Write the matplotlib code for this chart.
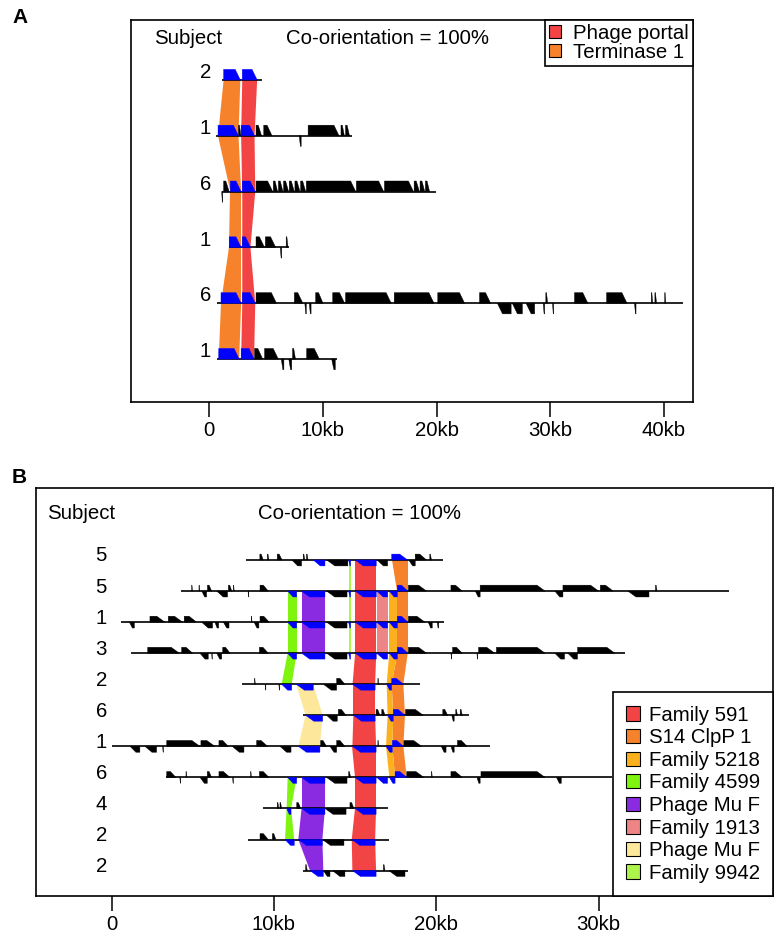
import matplotlib
matplotlib.use('Agg')
import matplotlib.pyplot as plt
from matplotlib.patches import Polygon, Patch

plt.rcParams['font.family'] = ['Liberation Sans', 'DejaVu Sans']
FS = 14.7

# ---------------- panel A data (kb) ----------------
a_labels = ['2', '1', '6', '1', '6', '1']
a_extent = [(1.11, 4.62), (0.62, 12.58), (1.11, 19.95), (1.77, 7.01), (0.69, 41.66), (0.69, 11.27)]

# other genes per row: (start, end, strand)
a_row0 = []
a_row1 = [(2.59, 2.8, 1), (4.13, 4.62, 1), (4.81, 5.54, 1), (7.93, 8.1, -1), (8.71, 11.43, 1),
          (11.6, 11.9, 1), (12.0, 12.35, 1)]
a_row2 = [(1.11, 1.2, -1), (1.28, 1.77, 1), (4.13, 5.6, 1), (5.65, 6.03, 1), (6.1, 6.5, 1),
          (6.55, 7.0, 1), (7.05, 7.5, 1), (7.55, 8.0, 1), (8.05, 8.5, 1), (8.55, 12.9, 1),
          (12.95, 15.36, 1), (15.42, 17.98, 1), (18.03, 18.5, 1), (18.55, 18.97, 1), (19.02, 19.39, 1)]
a_row3 = [(4.13, 4.88, 1), (4.95, 5.86, 1), (6.26, 6.39, -1), (6.78, 6.94, 1)]
a_row4 = [(4.13, 5.93, 1), (7.5, 8.25, 1), (8.42, 8.55, -1), (8.81, 8.97, -1), (9.37, 10.02, 1),
          (10.87, 11.92, 1), (12.0, 16.02, 1), (16.28, 19.78, 1), (20.11, 22.47, 1),
          (23.78, 24.76, 1), (25.35, 26.56, -1), (26.66, 27.55, -1), (27.87, 28.63, -1),
          (29.38, 29.51, -1), (29.61, 29.77, 1), (30.2, 30.3, -1), (32.13, 33.31, 1),
          (34.95, 36.75, 1), (37.41, 37.54, -1), (38.88, 39.01, 1), (39.2, 39.34, 1), (40.06, 40.16, 1)]
a_row5 = [(4.0, 4.72, 1), (4.88, 6.09, 1), (6.35, 6.58, -1), (7.01, 7.27, -1), (7.34, 7.6, 1),
          (8.58, 9.7, 1), (10.78, 11.1, -1)]
a_genes = [a_row0, a_row1, a_row2, a_row3, a_row4, a_row5]

# conserved families: (row, start, end), all on + strand
a_portal = [(0, 2.92, 4.23), (1, 2.82, 4.0), (2, 2.92, 4.06), (3, 2.92, 3.64), (4, 2.92, 4.06), (5, 2.82, 3.96)]
a_terminase = [(0, 1.28, 2.75), (1, 0.79, 2.59), (2, 1.87, 2.82), (3, 1.77, 2.82), (4, 1.05, 2.82), (5, 0.85, 2.65)]
a_fam_names = ['Phage portal', 'Terminase 1']
a_fam_colors = ['#F24444', '#F6832B']

# ---------------- panel B data (kb) ----------------
b_labels = ['5', '5', '1', '3', '2', '6', '1', '6', '4', '2', '2']
b_extent = [(8.3, 20.4), (4.3, 38.0), (0.55, 20.5), (1.2, 31.6), (8.0, 19.0), (11.8, 22.0),
            (0.0, 23.3), (3.35, 30.85), (9.35, 17.0), (8.4, 17.1), (11.8, 18.24)]

b_row0 = [(9.13, 9.34, 1), (9.59, 9.69, 1), (10.2, 10.5, 1), (11.1, 11.7, -1), (11.8, 11.9, 1),
          (12.0, 12.1, 1), (13.25, 14.55, -1), (16.35, 17.0, -1), (18.3, 18.7, -1), (18.7, 19.4, 1),
          (19.6, 19.7, 1)]
b_row1 = [(4.93, 4.98, 1), (5.38, 5.43, 1), (5.55, 5.85, -1), (5.9, 6.16, 1), (6.47, 7.14, -1),
          (7.19, 7.4, 1), (7.5, 7.55, 1), (8.4, 8.45, -1), (9.14, 9.65, 1), (13.24, 14.5, -1),
          (18.28, 19.4, 1), (20.9, 21.6, 1), (22.4, 22.7, -1), (22.7, 26.7, 1), (27.3, 27.8, -1),
          (27.8, 30.0, 1), (30.1, 30.9, 1), (31.8, 33.1, -1), (33.5, 33.6, 1)]
b_row2 = [(1.09, 1.4, -1), (2.36, 3.28, 1), (3.49, 4.37, 1), (4.47, 5.23, 1), (5.54, 6.22, -1),
          (6.36, 6.59, -1), (6.88, 7.23, -1), (8.6, 8.65, 1), (8.77, 9.07, -1), (9.14, 9.71, 1),
          (13.24, 14.5, -1), (18.28, 19.3, 1), (19.5, 19.75, -1), (20.05, 20.15, -1)]
b_row3 = [(2.22, 4.17, 1), (4.31, 4.99, 1), (5.44, 5.95, -1), (6.16, 6.2, -1), (6.47, 6.78, -1),
          (6.84, 7.29, 1), (9.1, 9.65, 1), (13.24, 14.5, -1), (18.28, 19.4, 1), (20.9, 20.95, -1),
          (21.0, 21.6, 1), (22.5, 22.55, -1), (22.6, 23.6, 1), (23.7, 26.7, 1), (27.3, 27.9, -1),
          (28.1, 28.7, -1), (28.7, 31.0, 1)]
b_row4 = [(8.8, 8.85, 1), (9.45, 9.5, -1), (10.3, 10.35, -1), (13.04, 13.86, -1), (13.86, 14.37, 1),
          (16.4, 16.45, 1)]
b_row5 = [(13.24, 13.9, -1), (13.96, 14.44, 1), (16.29, 16.53, 1), (16.64, 16.84, 1), (18.1, 19.2, 1),
          (20.4, 20.7, 1), (20.95, 21.1, -1), (21.2, 21.3, 1), (21.47, 21.6, 1)]
b_row6 = [(1.13, 1.74, -1), (2.05, 2.77, -1), (3.14, 3.19, -1), (3.39, 5.44, 1), (5.5, 6.36, 1),
          (6.61, 7.19, 1), (7.43, 8.15, -1), (8.93, 9.61, 1), (10.37, 11.05, -1), (12.87, 13.24, 1),
          (13.45, 13.86, -1), (13.86, 14.37, 1), (16.4, 16.45, 1), (18.0, 19.1, 1), (20.3, 20.6, -1),
          (20.9, 21.1, -1), (21.3, 21.9, 1)]
b_row7 = [(3.39, 3.96, 1), (4.2, 4.25, -1), (4.58, 4.63, 1), (5.44, 5.89, -1), (5.89, 6.16, 1),
          (6.61, 7.29, 1), (7.45, 7.5, -1), (8.56, 8.61, 1), (9.1, 9.69, 1), (13.24, 14.5, -1),
          (14.6, 14.72, 1), (18.18, 19.24, 1), (19.7, 19.75, 1), (20.9, 21.6, 1), (22.5, 22.7, -1),
          (22.75, 26.7, 1), (27.4, 27.7, -1)]
b_row8 = [(10.2, 10.3, 1), (10.37, 10.47, 1), (11.4, 11.65, 1), (13.14, 14.44, -1), (14.68, 14.93, 1)]
b_row9 = [(9.14, 9.65, 1), (9.9, 10.12, 1), (12.98, 14.31, -1)]
b_row10 = [(11.95, 12.05, 1), (13.04, 13.45, -1), (13.6, 14.37, -1), (16.74, 16.84, 1), (17.07, 18.07, -1)]
b_genes = [b_row0, b_row1, b_row2, b_row3, b_row4, b_row5, b_row6, b_row7, b_row8, b_row9, b_row10]

# blue genes without any partner
b_orphans = [(0, 12.42, 13.14, -1)]

# conserved families: (row, start, end)
b_f591 = [(0, 15.0, 16.3), (1, 15.0, 16.3), (2, 15.0, 16.3), (3, 15.0, 16.3), (4, 14.84, 16.23),
          (5, 14.89, 16.23), (6, 14.83, 16.29), (7, 14.99, 16.29), (8, 14.99, 16.29), (9, 14.79, 16.23),
          (10, 14.83, 16.29)]
b_s14 = [(0, 17.25, 18.24), (1, 17.6, 18.24), (2, 17.6, 18.24), (3, 17.6, 18.24), (4, 17.25, 17.97),
         (5, 17.35, 18.07), (6, 17.29, 17.97), (7, 17.46, 18.18)]
b_f5218 = [(1, 17.1, 17.6), (2, 17.1, 17.6), (3, 17.1, 17.6), (4, 16.94, 17.25), (5, 17.0, 17.35),
           (6, 16.9, 17.29), (7, 17.11, 17.46)]
b_f4599 = [(1, 10.84, 11.4), (2, 10.84, 11.4), (3, 10.84, 11.4), (4, 10.47, 11.09), (7, 10.84, 11.4),
           (8, 10.78, 11.05), (9, 10.68, 11.25)]
b_muf = [(1, 11.7, 13.14), (2, 11.7, 13.14), (3, 11.7, 13.14), (7, 11.7, 13.14), (8, 11.7, 13.14),
         (9, 11.5, 12.98), (10, 12.22, 13.04)]
b_f1913 = [(1, 16.33, 17.0), (2, 16.33, 17.0), (3, 16.33, 17.0), (7, 16.33, 17.0)]
b_muf2 = [(4, 11.37, 12.42), (5, 11.95, 13.0), (6, 11.5, 12.83)]
b_f9942 = [(0, 14.6, 14.72), (1, 14.6, 14.72), (2, 14.6, 14.72), (3, 14.6, 14.72)]
b_fam_names = ['Family 591', 'S14 ClpP 1', 'Family 5218', 'Family 4599', 'Phage Mu F',
               'Family 1913', 'Phage Mu F', 'Family 9942']
b_fam_colors = ['#F24444', '#F6832B', '#FBB11E', '#7FF50F', '#8A2BE2', '#EE8585', '#FCE79B', '#ADF54A']
b_fam_strand = [-1, 1, -1, -1, -1, -1, -1, -1]

GH = 0.19  # gene height in row units


def draw_gene(ax, x0, x1, y, strand, color, head):
    hd = min(head, 0.6 * (x1 - x0))
    if strand > 0:
        pts = [(x0, y), (x0, y + GH), (x1 - hd, y + GH), (x1, y)]
    else:
        pts = [(x1, y), (x1, y - GH), (x0 + hd, y - GH), (x0, y)]
    ax.add_patch(Polygon(pts, closed=True, fc=color, ec=color, lw=0.3, zorder=3))


def draw_panel(ax, labels, extent, genes, fams, colors, strands, orphans, head, label_x):
    # ribbons between consecutive rows
    for fam, col in zip(fams, colors):
        for a, b in zip(fam[:-1], fam[1:]):
            if b[0] - a[0] == 1:
                pts = [(a[1], -a[0]), (a[2], -a[0]), (b[2], -b[0]), (b[1], -b[0])]
                ax.add_patch(Polygon(pts, closed=True, fc=col, ec='none', zorder=1))
    for i, (s, e) in enumerate(extent):
        ax.plot([s, e], [-i, -i], color='black', lw=1.2, zorder=2, solid_capstyle='butt')
        ax.text(label_x, -i + 0.13, labels[i], ha='right', va='center', fontsize=FS)
        for g in genes[i]:
            draw_gene(ax, g[0], g[1], -i, g[2], 'black', head)
    for fam, st in zip(fams, strands):
        for r, s, e in fam:
            draw_gene(ax, s, e, -r, st, '#0000FF', head)
    for r, s, e, st in orphans:
        draw_gene(ax, s, e, -r, st, '#0000FF', head)


def style_axes(ax, ticks, ticklabels):
    ax.set_xticks(ticks)
    ax.set_xticklabels(ticklabels, fontsize=FS)
    ax.set_yticks([])
    ax.tick_params(axis='x', length=11, width=1.1, pad=3)
    for sp in ax.spines.values():
        sp.set_linewidth(1.2)


fig = plt.figure(figsize=(7.79, 9.42), dpi=100)

# ---- panel A ----
axA = fig.add_axes([0.1682, 0.5732, 0.7214, 0.4056])
draw_panel(axA, a_labels, a_extent, a_genes, [a_portal, a_terminase], a_fam_colors, [1, 1], [],
           0.45, 0.15)
axA.set_xlim(-6.86, 42.55)
axA.set_ylim(-5.77, 1.075)
style_axes(axA, [0, 10, 20, 30, 40], ['0', '10kb', '20kb', '30kb', '40kb'])
axA.text(-1.85, 0.75, 'Subject', ha='center', va='center', fontsize=FS)
axA.text(15.7, 0.75, 'Co-orientation = 100%', ha='center', va='center', fontsize=FS)
hA = [Patch(fc=c, ec='black', lw=0.8) for c in a_fam_colors]
legA = axA.legend(hA, a_fam_names, loc='upper right', bbox_to_anchor=(1, 1), borderaxespad=0,
                  fancybox=False, edgecolor='black', framealpha=1, fontsize=FS,
                  handlelength=0.6, handleheight=0.6, handletextpad=0.6,
                  labelspacing=0.0, borderpad=0.2)
legA.get_frame().set_linewidth(1.2)

# ---- panel B ----
axB = fig.add_axes([0.0462, 0.0488, 0.9461, 0.4332])
b_fams = [b_f591, b_s14, b_f5218, b_f4599, b_muf, b_f1913, b_muf2, b_f9942]
draw_panel(axB, b_labels, b_extent, b_genes, b_fams, b_fam_colors, b_fam_strand, b_orphans,
           0.5, -0.3)
axB.set_xlim(-4.66, 40.74)
axB.set_ylim(-10.82, 2.32)
style_axes(axB, [0, 10, 20, 30], ['0', '10kb', '20kb', '30kb'])
axB.text(-1.89, 1.51, 'Subject', ha='center', va='center', fontsize=FS)
axB.text(15.24, 1.51, 'Co-orientation = 100%', ha='center', va='center', fontsize=FS)
hB = [Patch(fc=c, ec='black', lw=0.8) for c in b_fam_colors]
legB = axB.legend(hB, b_fam_names, loc='lower right', bbox_to_anchor=(1, 0), borderaxespad=0,
                  fancybox=False, edgecolor='black', framealpha=1, fontsize=FS,
                  handlelength=0.7, handleheight=0.7, handletextpad=0.4,
                  labelspacing=0.175, borderpad=0.65)
legB.get_frame().set_linewidth(1.2)

fig.text(0.0154, 0.981, 'A', fontsize=15, fontweight='bold', ha='left', va='center')
fig.text(0.0154, 0.4926, 'B', fontsize=15, fontweight='bold', ha='left', va='center')

fig.savefig('out.png', dpi=100)
